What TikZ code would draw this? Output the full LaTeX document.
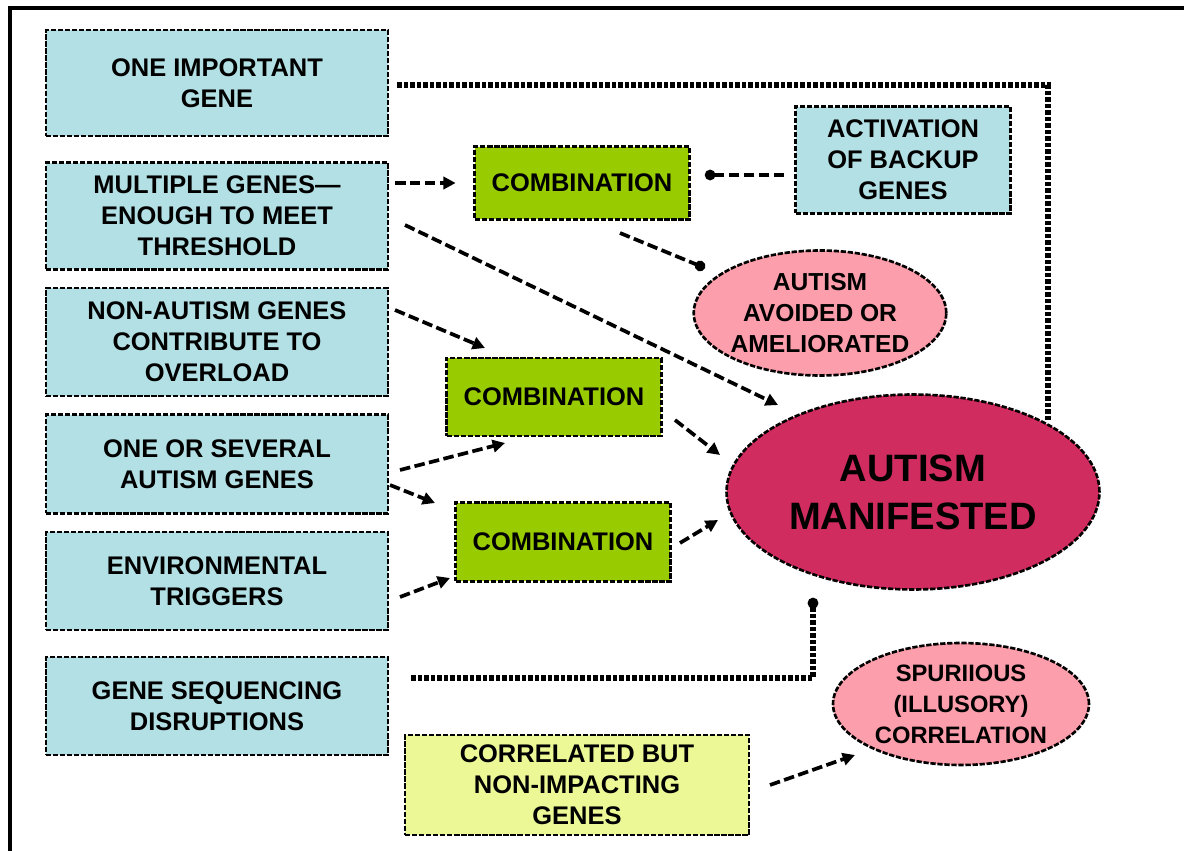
\documentclass[tikz,border=0pt]{standalone}
\usepackage{fontspec}
\setmainfont{Liberation Sans}
\usetikzlibrary{arrows.meta,shapes.geometric}

\definecolor{geneblue}{RGB}{178,224,228}
\definecolor{combgreen}{RGB}{153,204,0}
\definecolor{softpink}{RGB}{252,158,172}
\definecolor{autred}{RGB}{208,44,96}
\definecolor{paleyellow}{RGB}{236,248,150}

\begin{document}
\begin{tikzpicture}[
  x=0.02cm,y=-0.02cm,
  every node/.style={font=\bfseries\fontsize{14.5}{17.6}\selectfont,align=center,text=black},
  gene/.style={rectangle,draw,line width=1.5pt,dash pattern=on 3pt off 1pt,fill=geneblue,minimum width=6.84cm,inner sep=0pt},
  comb/.style={rectangle,draw,line width=1.5pt,dash pattern=on 3pt off 1pt,fill=combgreen,minimum width=4.3cm,minimum height=1.52cm,inner sep=0pt},
  result/.style={ellipse,draw,line width=1.5pt,dash pattern=on 3pt off 1pt,inner sep=0pt},
  edge/.style={-{Triangle[length=7pt,width=7pt]},black,line width=2.1pt,dash pattern=on 6pt off 2.5pt},
  link/.style={black,line width=3pt,dash pattern=on 2.5pt off 1.2pt}
]
  \useasboundingbox (0,0) rectangle (1184,851);
  \draw[line width=2pt] (10,851) -- (10,8) -- (1184,8);

  % causes on the left
  \node[gene,minimum height=2.12cm] (g1) at (217,83) {ONE IMPORTANT\\GENE};
  \node[gene,minimum height=2.14cm] (g2) at (217,216) {MULTIPLE GENES---\\ENOUGH TO MEET\\THRESHOLD};
  \node[gene,minimum height=2.16cm] (g3) at (217,342) {NON-AUTISM GENES\\CONTRIBUTE TO\\OVERLOAD};
  \node[gene,minimum height=1.98cm] (g4) at (217,464) {ONE OR SEVERAL\\AUTISM GENES};
  \node[gene,minimum height=1.96cm] (g5) at (217,581) {ENVIRONMENTAL\\TRIGGERS};
  \node[gene,minimum height=1.96cm] (g6) at (217,706) {GENE SEQUENCING\\DISRUPTIONS};

  \node[comb,minimum height=1.46cm] (c1) at (582,183) {COMBINATION};
  \node[comb,minimum height=1.56cm] (c2) at (554,397) {COMBINATION};
  \node[comb,minimum height=1.58cm] (c3) at (563,542) {COMBINATION};

  \node[gene,minimum width=4.3cm,minimum height=2.14cm] (backup) at (903,160) {ACTIVATION\\OF BACKUP\\GENES};
  \node[gene,fill=paleyellow,minimum width=6.88cm,minimum height=2cm] (corr) at (577,785) {CORRELATED BUT\\NON-IMPACTING\\GENES};

  % outcomes
  \node[result,fill=softpink,minimum width=4.9cm,minimum height=2.5cm,font=\bfseries\fontsize{14}{17.6}\selectfont] (avoid) at (820,313) {AUTISM\\AVOIDED OR\\AMELIORATED};
  \node[result,fill=autred,minimum width=7.46cm,minimum height=3.9cm,font=\bfseries\fontsize{21.7}{27.3}\selectfont] (manif) at (913,492) {AUTISM\\MANIFESTED};
  \node[result,fill=softpink,minimum width=5.12cm,minimum height=2.44cm,font=\bfseries\fontsize{13.5}{17.6}\selectfont] (spur) at (961,704) {SPURIIOUS\\(ILLUSORY)\\CORRELATION};

  \coordinate (k1) at (1048,85);
  \coordinate (k6) at (813,678);

  \draw[link] (g1.east |- 0,85) ++(8,0) -- (k1) -- (k1 |- manif.north east);
  \draw[link,-{Circle[length=6pt]}] (g6.east |- 0,678) ++(22,0) -- (k6) -- ([yshift=-4pt]k6 |- manif.south);

  \draw[edge] (395,183) -- ([xshift=-10pt]c1.west);
  \draw[edge,-{Circle[length=6pt]}] (backup.west |- 0,175) ++(-10,0) -- ([xshift=8pt]c1.east |- 0,175);
  \draw[edge,-{Circle[length=6pt]}] (620,233) -- (705,268);
  \draw[edge] (405,225) -- (778,405);
  \draw[edge] (395,310) -- (485,348);
  \draw[edge] (400,470) -- (505,443);
  \draw[edge] (390,485) -- (435,503);
  \draw[edge] (675,420) -- (720,455);
  \draw[edge] (680,543) -- (718,520);
  \draw[edge] (400,597) -- (450,578);
  \draw[edge] (770,785) -- (855,755);
\end{tikzpicture}
\end{document}
